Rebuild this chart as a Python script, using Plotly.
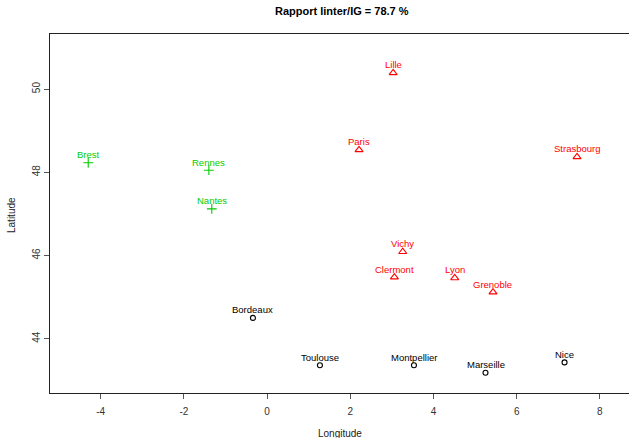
import plotly.graph_objects as go

# Group 1 (black circles)
g1_names = ["Bordeaux", "Toulouse", "Montpellier", "Marseille", "Nice"]
g1_lon = [-0.34, 1.27, 3.53, 5.25, 7.15]
g1_lat = [44.50, 43.36, 43.36, 43.18, 43.43]

# Group 2 (red triangles)
g2_names = ["Lille", "Paris", "Strasbourg", "Vichy", "Clermont", "Lyon", "Grenoble"]
g2_lon = [3.03, 2.21, 7.45, 3.26, 3.06, 4.51, 5.43]
g2_lat = [50.39, 48.54, 48.37, 46.09, 45.48, 45.46, 45.12]

# Group 3 (green crosses)
g3_names = ["Brest", "Rennes", "Nantes"]
g3_lon = [-4.30, -1.40, -1.33]
g3_lat = [48.23, 48.05, 47.12]

x_ticks = [-4, -2, 0, 2, 4, 6, 8]
y_ticks = [44, 46, 48, 50]

title_text = "Rapport linter/IG = 78.7 %"

FONT = "Liberation Sans, Arial, Helvetica, sans-serif"

fig = go.Figure()
annots = []

def add_group(names, lon, lat, color, symbol, size):
    fig.add_trace(go.Scatter(
        x=lon, y=lat, mode="markers",
        marker=dict(symbol=symbol, size=size, color=color,
                    line=dict(color=color, width=1.1)),
        hoverinfo="skip", showlegend=False, cliponaxis=False))
    for n, xv, yv in zip(names, lon, lat):
        annots.append(dict(text=n, x=xv, y=yv, xref="x", yref="y",
                           xanchor="center", yanchor="middle", yshift=8,
                           showarrow=False,
                           font=dict(family=FONT, size=9.5, color=color)))

add_group(g1_names, g1_lon, g1_lat, "#000000", "circle-open", 5)
add_group(g2_names, g2_lon, g2_lat, "#FF0000", "triangle-up-open", 7)
add_group(g3_names, g3_lon, g3_lat, "#00CD00", "cross-thin-open", 7)

# plot box at page x 50..(beyond 629), y 34..393 (body margin removed)
W, H = 629, 438
L, R_, T, B = 50, 0, 34, H - 393
PW, PH = W - L - R_, H - T - B

def px(xp):
    return (xp - L) / PW

def py(yp):
    return ((H - B) - yp) / PH

# x: 0 at 267.1 px, 41.6 px per unit; y: 44 at 338.7 px, 41.6 px per unit
x_left = (50 - 267.1) / 41.6
x_right = (W - 267.1) / 41.6
y_top = 44 + (338.7 - 34) / 41.6
y_bot = 44 - (393 - 338.7) / 41.6

annots += [
    dict(text="<b>" + title_text + "</b>", xref="paper", yref="paper",
         x=px(342), y=py(11), xanchor="center", yanchor="middle", showarrow=False,
         font=dict(size=11, color="#000000")),
    dict(text="Longitude", xref="paper", yref="paper",
         x=px(340), y=py(433), xanchor="center", yanchor="middle", showarrow=False,
         font=dict(size=10, color="#222222")),
    dict(text="Latitude", xref="paper", yref="paper",
         x=px(12), y=py(215), xanchor="center", yanchor="middle", showarrow=False,
         textangle=-90, font=dict(size=10, color="#222222")),
]

fig.update_layout(
    width=W, height=H,
    margin=dict(l=L, r=R_, t=T, b=B, autoexpand=False),
    plot_bgcolor="white", paper_bgcolor="white",
    font=dict(family=FONT, size=10, color="#222222"),
    xaxis=dict(range=[x_left, x_right], tickvals=x_ticks, ticktext=[str(v) for v in x_ticks],
               showgrid=False, zeroline=False, showline=True, linecolor="#222222",
               linewidth=1.3, mirror=True, ticks="outside", ticklen=5,
               tickcolor="#555555", tickwidth=1, ticklabelstandoff=4,
               automargin=False,
               tickfont=dict(size=10, color="#333333")),
    yaxis=dict(range=[y_bot, y_top], tickvals=y_ticks, ticktext=[str(v) for v in y_ticks],
               showgrid=False, zeroline=False, showline=True, linecolor="#222222",
               linewidth=1.3, ticks="outside", ticklen=5, automargin=False,
               tickcolor="#555555", tickwidth=1, tickangle=-90,
               tickfont=dict(size=10, color="#333333")),
    annotations=annots,
)

fig.write_html("out.html", config={"displayModeBar": False},
               post_script="document.body.style.margin='0';document.body.style.overflow='hidden';")
